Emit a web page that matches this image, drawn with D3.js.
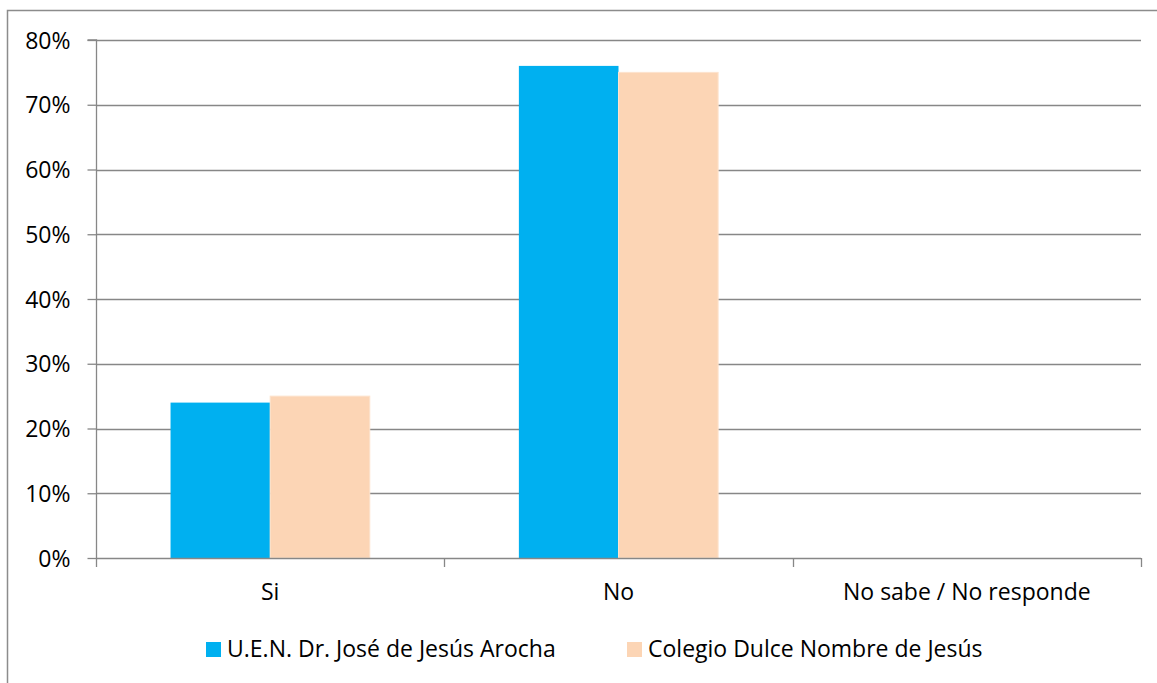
<!DOCTYPE html>
<html>
<head>
<meta charset="utf-8">
<script src="https://cdn.jsdelivr.net/npm/d3@7"></script>
<style>
  html, body { margin: 0; padding: 0; background: #fff; }
  svg { display: block; }
  text { font-family: "Open Sans", "Noto Sans", sans-serif; fill: #000; }
</style>
</head>
<body>
<svg id="chart" width="1157" height="683"></svg>
<script>
// Survey answers by school (share of respondents)
const categories = ["Si", "No", "No sabe / No responde"];
const seriesNames = ["U.E.N. Dr. José de Jesús Arocha", "Colegio Dulce Nombre de Jesús"];
const arochaValues = [0.24, 0.76, 0];
const dulceValues = [0.25, 0.75, 0];
const yTicks = [0, 0.1, 0.2, 0.3, 0.4, 0.5, 0.6, 0.7, 0.8];
const colors = ["#00B0F0", "#FCD5B5"];

const FONT = "23px";
const svg = d3.select("#chart");
const W = 1157, H = 683;

// outer chart frame
svg.append("rect")
  .attr("x", 7.5).attr("y", 10.5)
  .attr("width", W).attr("height", H)
  .attr("fill", "none").attr("stroke", "#8c8c8c").attr("stroke-width", 1.5);

const plot = { left: 96, right: 1141, top: 40, bottom: 558 };

const x = d3.scaleBand()
  .domain(categories)
  .range([plot.left, plot.right])
  .paddingInner(0.428)
  .paddingOuter(0.214);

const x1 = d3.scaleBand()
  .domain(seriesNames)
  .range([0, x.bandwidth()]);

const y = d3.scaleLinear()
  .domain([0, 0.8])
  .range([plot.bottom, plot.top]);

// horizontal gridlines
svg.append("g")
  .selectAll("line")
  .data(yTicks.filter(d => d > 0))
  .join("line")
  .attr("x1", plot.left).attr("x2", plot.right)
  .attr("y1", d => Math.round(y(d)) + 0.5).attr("y2", d => Math.round(y(d)) + 0.5)
  .attr("stroke", "#878787").attr("stroke-width", 1.3);

// bars
const rows = categories.map((c, i) => ({ cat: c, vals: [arochaValues[i], dulceValues[i]] }));
const groups = svg.append("g").selectAll("g")
  .data(rows)
  .join("g")
  .attr("transform", d => `translate(${x(d.cat)},0)`);

groups.selectAll("rect")
  .data(d => d.vals.map((v, k) => ({ name: seriesNames[k], v, k })))
  .join("rect")
  .attr("x", d => x1(d.name))
  .attr("width", x1.bandwidth())
  .attr("y", d => y(d.v))
  .attr("height", d => y(0) - y(d.v))
  .attr("fill", d => colors[d.k])
  .attr("stroke", d => d.k === 1 ? "#fde3cd" : "none")
  .attr("stroke-width", 1);

// y axis
const yAxis = d3.axisLeft(y)
  .tickValues(yTicks)
  .tickFormat(d3.format(".0%"))
  .tickSize(9)
  .tickPadding(17);

const gy = svg.append("g")
  .attr("transform", `translate(${plot.left + 0.5},0)`)
  .call(yAxis);
gy.attr("font-size", null).attr("font-family", null);
gy.select(".domain").attr("stroke", "#878787").attr("stroke-width", 1.3)
  .attr("d", `M-9,${y(0.8)}H0V${y(0)}`);
gy.selectAll(".tick line").attr("stroke", "#878787").attr("stroke-width", 1.3);
gy.selectAll(".tick text").style("font-size", FONT).attr("fill", "#000")
  .attr("dy", "0.35em");

// x axis
const tickEdges = categories.map(c => x(c) - x.step() * x.paddingInner() / 2).concat([plot.right]);
const gx = svg.append("g");
gx.append("line")
  .attr("x1", plot.left).attr("x2", plot.right)
  .attr("y1", y(0) + 0.5).attr("y2", y(0) + 0.5)
  .attr("stroke", "#878787").attr("stroke-width", 1.3);
gx.selectAll("line.tk")
  .data(tickEdges)
  .join("line")
  .attr("class", "tk")
  .attr("x1", d => Math.round(d) + 0.5).attr("x2", d => Math.round(d) + 0.5)
  .attr("y1", y(0)).attr("y2", y(0) + 9)
  .attr("stroke", "#878787").attr("stroke-width", 1.3);
gx.selectAll("text")
  .data(categories)
  .join("text")
  .attr("x", d => x(d) + x.bandwidth() / 2)
  .attr("y", 600)
  .attr("text-anchor", "middle")
  .style("font-size", FONT)
  .text(d => d);

// legend
const legendItems = [
  { name: seriesNames[0], color: colors[0], x: 206 },
  { name: seriesNames[1], color: colors[1], x: 627 }
];
const lg = svg.append("g").selectAll("g")
  .data(legendItems)
  .join("g")
  .attr("transform", d => `translate(${d.x},642)`);
lg.append("rect").attr("width", 15).attr("height", 15).attr("fill", d => d.color);
lg.append("text").attr("x", 21).attr("y", 15).style("font-size", FONT).text(d => d.name);
</script>
</body>
</html>
